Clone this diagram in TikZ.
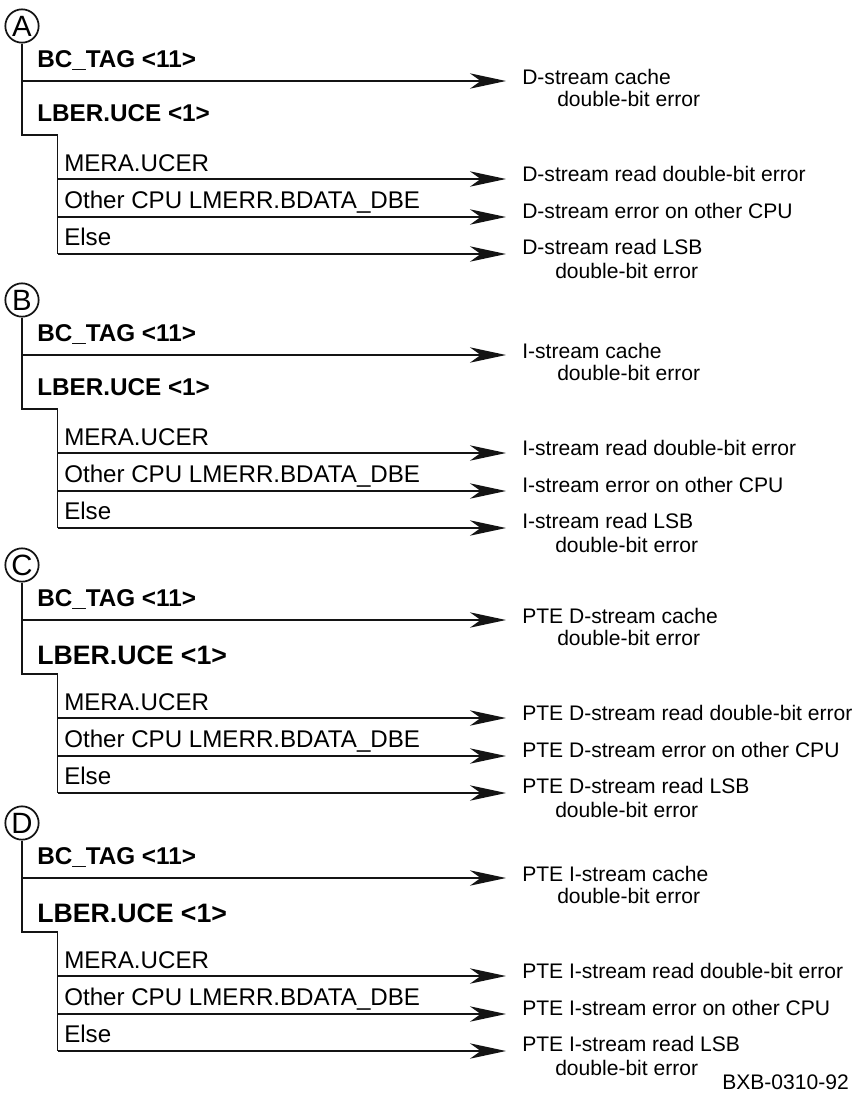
\documentclass[tikz,border=0pt]{standalone}
\usepackage{fontspec}
\setmainfont{Liberation Sans}
\usepackage{xcolor}
\usetikzlibrary{arrows.meta,calc,positioning}
\definecolor{figInk}{RGB}{20,20,20}
\definecolor{figWhite}{RGB}{255,255,255}
\tikzset{
  figline/.style={draw=figInk,line width=1.1pt},
  figarrow/.style={figline,-{Stealth[length=27pt,width=11.5pt,inset=8pt]},shorten >=12pt},
  figtag/.style={circle,draw=figInk,line width=1.3pt,minimum size=25pt,inner sep=0pt,font=\fontsize{22}{24}\selectfont},
  figcond/.style={anchor=base west,inner sep=0pt,font=\bfseries\fontsize{18.2}{20}\selectfont},
  figcondbig/.style={anchor=base west,inner sep=0pt,font=\bfseries\fontsize{20}{22}\selectfont},
  figcase/.style={anchor=base west,inner sep=0pt,font=\fontsize{18.1}{20}\selectfont},
  figresult/.style={anchor=base west,inner sep=0pt,font=\fontsize{15.8}{18}\selectfont},
}
% #1 tag letter, #2 vertical offset, #3 stream name, #4 LBER style, #5 LBER baseline
\newcommand{\ErrorBranch}[5]{%
  \node[figtag] (#1circ) at (22,#2+26) {#1};%
  \node[figcond] (#1tag) at (37,#2+67) {BC\_TAG <11>};%
  \node[#4] (#1lber) at (37,#2+#5) {LBER.UCE <1>};%
  \node[figcase] (#1mera) at (64,#2+171) {MERA.UCER};%
  \node[figcase] (#1other) at (64,#2+208) {Other CPU LMERR.BDATA\_DBE};%
  \node[figcase] (#1else) at (64,#2+245) {Else};%
  \node[figresult] (#1cache) at (522,#2+84) {#3 cache};%
  \node[figresult] (#1cachedbe) at (557,#2+106) {double-bit error};%
  \node[figresult] (#1read) at (522,#2+181) {#3 read double-bit error};%
  \node[figresult] (#1remote) at (522,#2+218) {#3 error on other CPU};%
  \node[figresult] (#1lsb) at (522,#2+254) {#3 read LSB};%
  \node[figresult] (#1lsbdbe) at (555,#2+278) {double-bit error};%
  \coordinate (#1tagfork) at (22,#2+81);%
  \coordinate (#1hook) at (22,#2+135);%
  \coordinate (#1elbow) at (57.5,#2+135);%
  \coordinate (#1fork1) at (57.5,#2+179);%
  \coordinate (#1fork2) at (57.5,#2+217);%
  \coordinate (#1fork3) at (57.5,#2+254);%
  \draw[figline] (#1circ.south) -- (#1hook) -- (#1elbow) -- (#1fork3);%
  \draw[figarrow] (#1tagfork) -- (#1tagfork -| #1cache.west);%
  \draw[figarrow] (#1fork1) -- (#1fork1 -| #1read.west);%
  \draw[figarrow] (#1fork2) -- (#1fork2 -| #1remote.west);%
  \draw[figarrow] (#1fork3) -- (#1fork3 -| #1lsb.west);%
}

\begin{document}
\begin{tikzpicture}[x=0.75pt,y=-0.75pt]
% Page: 859 x 1093 units, y grows downwards.
\useasboundingbox[fill=figWhite] (0,0) rectangle (859,1093);

% Four branches: D-stream, I-stream, PTE D-stream, PTE I-stream.
\ErrorBranch{A}{0}{D-stream}{figcond}{121}
\ErrorBranch{B}{274}{I-stream}{figcond}{121}
\ErrorBranch{C}{539}{PTE D-stream}{figcondbig}{125}
\ErrorBranch{D}{797}{PTE I-stream}{figcondbig}{125}

\node[figresult] (figid) at (722,1089) {BXB-0310-92};
\end{tikzpicture}
\end{document}
